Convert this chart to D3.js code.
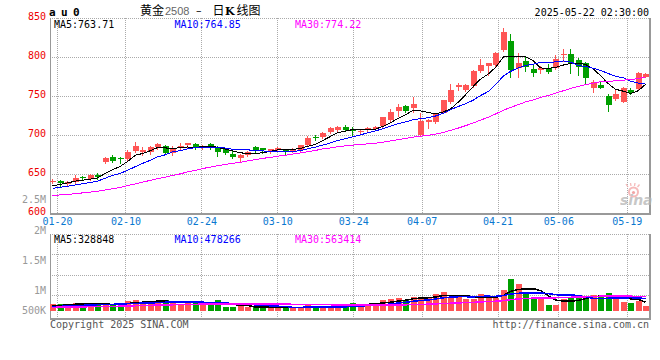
<!DOCTYPE html>
<html>
<head>
<meta charset="utf-8">
<script src="https://cdn.jsdelivr.net/npm/d3@7"></script>
<style>
  body { margin: 0; background: #fff; }
  svg { display: block; font-family: "DejaVu Sans Mono", monospace; font-size: 10px; }
</style>
</head>
<body>
<div id="chart"></div>
<script>
// daily bars, au2508
const dates = [
  "01-17","01-20","01-21","01-22","01-23","01-24","01-27",
  "02-05","02-06","02-07","02-10","02-11","02-12","02-13","02-14",
  "02-17","02-18","02-19","02-20","02-21","02-24","02-25","02-26","02-27","02-28",
  "03-03","03-04","03-05","03-06","03-07","03-10","03-11","03-12","03-13","03-14",
  "03-17","03-18","03-19","03-20","03-21","03-24","03-25","03-26","03-27","03-28",
  "03-31","04-01","04-02","04-03","04-07","04-08","04-09","04-10","04-11",
  "04-14","04-15","04-16","04-17","04-18","04-21","04-22","04-23","04-24","04-25",
  "04-28","04-29","04-30","05-06","05-07","05-08","05-09",
  "05-12","05-13","05-14","05-15","05-16","05-19","05-20","05-21","05-22"
];
const opens = [
  640, 641.8, 637.1, 640.1, 646.5, 643.5, 649.5, 666.2, 672.6, 670.9,
  669.2, 680.3, 678.6, 678.2, 684.6, 686.7, 676.9, 683.3, 687.6, 688.4,
  683.7, 688.8, 683.3, 682, 676, 670.9, 675.2, 684.6, 683.7, 678.6,
  681.2, 682, 679.4, 681.2, 687.1, 698.2, 697.4, 704.2, 706.8, 711,
  708.5, 704.7, 706.8, 707.6, 711.9, 719.6, 731.6, 737.6, 734.6, 700.4,
  717.5, 717.5, 729, 743.1, 762.3, 758.1, 763.6, 782.4, 789.3, 790.1,
  809.4, 820.9, 785.8, 795.3, 785, 783.7, 786.7, 785.8, 803, 804.6,
  796.5, 792.3, 761.1, 764.5, 750.4, 746.5, 743.1, 758.1, 759.4, 775.2
];
const highs = [
  644, 642.5, 641, 648.7, 647.8, 650.4, 651.2, 671.8, 674.7, 671.8,
  681.2, 691.8, 684.6, 686.7, 689.8, 688, 686, 689.7, 690.6, 690,
  688, 690, 686.3, 683.7, 680, 675.5, 680.3, 686.3, 684, 683,
  684.6, 682.5, 683.3, 688, 699.1, 700, 704.4, 711, 712, 712.7,
  711, 707.6, 711, 712, 723.9, 733.3, 740.1, 738.8, 748.7, 728.2,
  720.9, 728.2, 745.5, 765.3, 766.6, 765.3, 783.7, 797.8, 793, 806.5,
  837.1, 829.9, 805.1, 801.7, 791.4, 788.8, 791.4, 803, 810.2, 810.2,
  798.7, 793.5, 770.5, 768.8, 752.9, 758.9, 762.3, 760.2, 781.6, 779.5
];
const lows = [
  638.4, 635, 636, 638.5, 644.4, 642.7, 644.4, 664, 666, 664,
  667.5, 678.2, 675.2, 676, 683, 676, 675, 682, 683.3, 682,
  682.5, 683, 673.9, 676, 671, 666.2, 673.4, 679, 677.7, 677.5,
  680.5, 675.6, 678.5, 680.5, 686.3, 694, 697, 702.5, 704.2, 705,
  700.4, 702.5, 705.5, 706.5, 710.2, 718.8, 724.7, 730.3, 730.3, 700.4,
  709.8, 716.2, 728, 741, 758.1, 757.2, 762.3, 780.7, 777.3, 789,
  808.5, 774.3, 774.3, 782.4, 776, 779.4, 780.5, 784.6, 795.7, 779.4,
  777.3, 767.5, 755.9, 760.6, 731.6, 745.3, 742.7, 752.5, 758.1, 774.5
];
const closes = [
  641, 639.3, 640.1, 645.3, 645.8, 649.1, 646.1, 670.5, 667.1, 669.2,
  679, 686.7, 681.2, 685.4, 688.8, 676.9, 683.3, 686.7, 689.7, 683.3,
  686.3, 684.6, 679, 677.7, 672.6, 674.3, 678.6, 681.2, 681.2, 682,
  683.7, 680.3, 682, 687.1, 696.5, 696.5, 703.4, 709.4, 711, 706.8,
  706, 706, 709.8, 711.1, 723, 730.3, 735.8, 731.6, 740.1, 718.8,
  719.6, 726.9, 745.3, 758, 764.5, 764.5, 782.4, 790.1, 792.3, 805.9,
  832, 783.7, 793.1, 788, 780.3, 786.7, 781.6, 797.4, 804.6, 791,
  788, 773, 768.8, 761.1, 738.8, 753.4, 760.2, 753.8, 780.3, 778.6
];
// volume, thousand lots
const volumes = [
  280, 280, 280, 333, 227, 280, 280, 260, 280, 280,
  400, 440, 360, 400, 360, 440, 300, 280, 300, 400,
  260, 250, 440, 165, 165, 190, 147, 147, 147, 150,
  120, 147, 110, 150, 240, 147, 147, 150, 150, 280,
  333, 280, 280, 280, 440, 467, 533, 440, 573, 573,
  533, 680, 760, 573, 573, 470, 470, 680, 600, 520,
  840, 1280, 1080, 680, 573, 467, 240, 240, 467, 547,
  640, 600, 640, 547, 707, 480, 373, 307, 420, 200
];
// closes / volumes before 01-17, only feed the first moving averages
const prevCloses = [
  622, 620, 618, 616, 615, 617, 619, 620, 618, 615,
  614, 616, 618, 620, 621, 622, 620, 619, 620, 620,
  625, 627, 629, 630, 632, 631, 631, 633, 641
];
const prevVolumes = [
  120, 130, 125, 135, 140, 128, 132, 138, 130, 126,
  134, 142, 136, 130, 138, 144, 140, 136, 142, 134,
  140, 145, 150, 148, 147, 170, 180, 185, 185
];

const priceTicks = [850, 800, 750, 700, 650, 600];
const volTicks = [2500000, 2000000, 1500000, 1000000, 500000];
const volTickLabels = ["2.5M", "2M", "1.5M", "1M", "500K"];
const dateTicks = ["01-20", "02-10", "02-24", "03-10", "03-24", "04-07", "04-21", "05-06", "05-19"];

const maPeriods = [5, 10, 30];
const maColors = ["#000000", "#0000ff", "#ff00ff"];
const priceMaText = ["763.71", "764.85", "774.22"];
const volMaText = ["328848", "478266", "563414"];

const UP = "#ff5555", DOWN = "#009f00", GRID = "#aaaaaa", FRAME = "#999999";

const W = 660, H = 360;
const L = 50, R = 650;
const PT = 18.3, PB = 213.3;   // price panel
const VT = 234, VB = 318.5;    // volume panel
const VBASE = 311;

const svg = d3.select("#chart").append("svg")
  .attr("width", W).attr("height", H)
  .attr("viewBox", `0 0 ${W} ${H}`);

const n = dates.length;
const x = d3.scaleBand().domain(d3.range(n)).range([L, R]).paddingInner(0.12);
const gx = d3.scaleLinear().domain([0, n - 1]).range([L, R]);   // date grid
const y = d3.scaleLinear().domain([600, 850]).range([PB, PT]);
const yv = d3.scaleLinear().domain([0, 2000000]).range([VBASE, VBASE - 50]);
const yvLabel = d3.scaleLinear().domain([0, 2500000]).range([354.4, 203.4]);

const px = v => Math.floor(v) + 0.5;
const barLeft = i => Math.round(x(i));
const cx = i => barLeft(i) + 2.5;

function movingAvg(prev, vals, k) {
  const all = prev.concat(vals);
  return vals.map((v, i) => d3.mean(all.slice(prev.length + i - k + 1, prev.length + i + 1)));
}

// --- grid ---
const grid = svg.append("g").attr("stroke", GRID).attr("stroke-dasharray", "1,1")
  .attr("shape-rendering", "crispEdges");

[850, 800, 750, 700, 650].forEach(v => {
  grid.append("line").attr("x1", L).attr("x2", R).attr("y1", px(y(v))).attr("y2", px(y(v)));
});
[VT, VT + 20.5, VT + 41, VT + 61.5].forEach(v => {
  grid.append("line").attr("x1", L).attr("x2", R).attr("y1", px(v)).attr("y2", px(v));
});
dateTicks.forEach(d => {
  const gxp = px(gx(dates.indexOf(d)));
  grid.append("line").attr("x1", gxp).attr("x2", gxp).attr("y1", PT).attr("y2", PB);
  grid.append("line").attr("x1", gxp).attr("x2", gxp).attr("y1", VT).attr("y2", VB);
});

// --- frames ---
const frame = svg.append("g").attr("stroke", FRAME).attr("shape-rendering", "crispEdges");
frame.append("line").attr("x1", 50.5).attr("x2", 50.5).attr("y1", PT).attr("y2", PB + 1);
frame.append("line").attr("x1", 649.5).attr("x2", 649.5).attr("y1", PT).attr("y2", PB + 1).attr("stroke-width", 2);
frame.append("line").attr("x1", L).attr("x2", R + 0.5).attr("y1", 213.5).attr("y2", 213.5).attr("stroke-width", 2);
frame.append("line").attr("x1", 50.5).attr("x2", 50.5).attr("y1", VT).attr("y2", VB + 1);
frame.append("line").attr("x1", 649.5).attr("x2", 649.5).attr("y1", VT).attr("y2", VB + 1).attr("stroke-width", 2);
frame.append("line").attr("x1", L).attr("x2", R + 0.5).attr("y1", VB).attr("y2", VB).attr("stroke-width", 2);

// --- sina watermark ---
const logo = svg.append("g").attr("opacity", 0.75);
logo.append("circle").attr("cx", 633.5).attr("cy", 192).attr("r", 4.5)
  .attr("fill", "none").attr("stroke", "#f3a3a3").attr("stroke-width", 2);
logo.append("circle").attr("cx", 633.5).attr("cy", 192.5).attr("r", 1.6).attr("fill", "#e88");
logo.append("path").attr("d", "M628,187 L626,184 M631,186 L630.5,183 M634.5,186 L635,183 M637.5,187 L639.5,184.5")
  .attr("stroke", "#f3a3a3").attr("stroke-width", 1.3);
logo.append("text").attr("x", 620).attr("y", 205)
  .attr("font-family", "DejaVu Sans").attr("font-weight", "bold").attr("font-style", "italic")
  .attr("font-size", 14).attr("fill", "#b5b5b5").text("sina");

// --- candles ---
const candles = svg.append("g").attr("shape-rendering", "crispEdges");
d3.range(n).forEach(i => {
  const o = opens[i], c = closes[i];
  const col = c >= o ? UP : DOWN;
  const top = Math.round(y(Math.max(o, c)));
  const bot = Math.round(y(Math.min(o, c)));
  candles.append("line")
    .attr("x1", cx(i)).attr("x2", cx(i))
    .attr("y1", Math.round(y(highs[i]))).attr("y2", Math.round(y(lows[i])) + 1)
    .attr("stroke", col);
  candles.append("rect")
    .attr("x", barLeft(i)).attr("width", 6)
    .attr("y", top).attr("height", Math.max(1, bot - top))
    .attr("fill", col);
});

// --- volume bars ---
const vbars = svg.append("g").attr("shape-rendering", "crispEdges");
d3.range(n).forEach(i => {
  const v = volumes[i] * 1000;
  const top = Math.round(yv(v));
  vbars.append("rect")
    .attr("x", barLeft(i)).attr("width", 6)
    .attr("y", top).attr("height", VBASE - top)
    .attr("fill", closes[i] >= opens[i] ? UP : DOWN);
});

// --- moving averages ---
maPeriods.forEach((k, j) => {
  const ma = movingAvg(prevCloses, closes, k);
  svg.append("path")
    .attr("d", d3.line().x((d, i) => cx(i)).y(d => y(d))(ma))
    .attr("fill", "none").attr("stroke", maColors[j]).attr("stroke-width", 1)
    .attr("shape-rendering", "crispEdges");

  const vma = movingAvg(prevVolumes, volumes, k);
  svg.append("path")
    .attr("d", d3.line().x((d, i) => cx(i)).y(d => yv(d * 1000))(vma))
    .attr("fill", "none").attr("stroke", maColors[j]).attr("stroke-width", 1.5)
    .attr("shape-rendering", "crispEdges");
});

// --- axis labels ---
svg.append("g").attr("fill", "#ee0000").attr("text-anchor", "end")
  .selectAll("text").data(priceTicks).enter().append("text")
  .attr("x", 46).attr("y", d => y(d) + 1.7).text(d => d);

svg.append("g").attr("fill", "#999999").attr("text-anchor", "end")
  .selectAll("text").data(volTicks).enter().append("text")
  .attr("x", 46).attr("y", d => Math.min(314, yvLabel(d)))
  .text((d, i) => volTickLabels[i]);

svg.append("g").attr("fill", "#0a78d0").attr("text-anchor", "middle")
  .selectAll("text").data(dateTicks).enter().append("text")
  .attr("x", d => gx(dates.indexOf(d))).attr("y", 224.5).text(d => d);

// --- legends ---
const legendX = [54, 174.5, 295];
maPeriods.forEach((k, j) => {
  svg.append("text").attr("x", legendX[j]).attr("y", 27.5).attr("fill", maColors[j])
    .text(`MA${k}:${priceMaText[j]}`);
  svg.append("text").attr("x", legendX[j]).attr("y", 242.5).attr("fill", maColors[j])
    .text(`MA${k}:${volMaText[j]}`);
});

// --- header / footer ---
svg.append("text").attr("x", 49).attr("y", 15.5)
  .attr("font-weight", "bold").attr("font-size", 11).attr("letter-spacing", -0.6)
  .text("a u 0");

const title = svg.append("g").attr("font-family", "'Noto Sans CJK SC', sans-serif").attr("font-size", 12);
title.append("text").attr("x", 140).attr("y", 14.5).text("黄金");
title.append("text").attr("x", 165).attr("y", 14.5).attr("font-family", "'Liberation Sans', Arial")
  .attr("font-size", 11).attr("fill", "#666").text("2508");
title.append("text").attr("x", 196).attr("y", 14).attr("font-family", "'DejaVu Sans'").attr("font-size", 11).text("–");
title.append("text").attr("x", 212.5).attr("y", 14.5).text("日");
title.append("text").attr("x", 225).attr("y", 14.5).attr("font-family", "'DejaVu Serif'")
  .attr("font-weight", "bold").attr("font-size", 11).text("K");
title.append("text").attr("x", 236.5).attr("y", 14.5).text("线图");

svg.append("text").attr("x", 649).attr("y", 15.5).attr("text-anchor", "end")
  .text("2025-05-22 02:30:00");

svg.append("text").attr("x", 50).attr("y", 328).attr("fill", "#555").text("Copyright 2025 SINA.COM");
svg.append("text").attr("x", 649).attr("y", 328).attr("text-anchor", "end").attr("fill", "#555")
  .text("http://finance.sina.com.cn");
</script>
</body>
</html>
